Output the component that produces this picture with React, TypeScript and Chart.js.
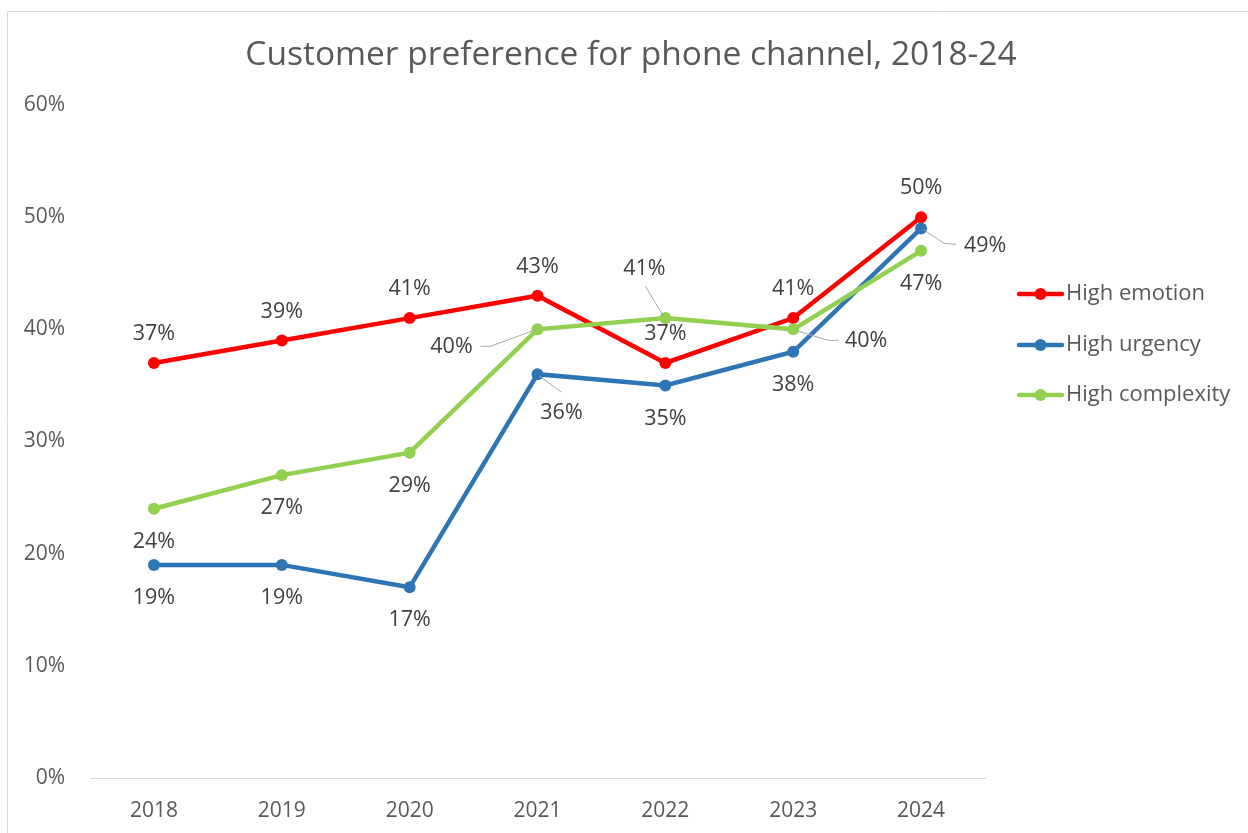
import React, { useEffect, useRef } from "react";
import { Chart, registerables } from "chart.js";

Chart.register(...registerables);

const years = ["2018", "2019", "2020", "2021", "2022", "2023", "2024"];
const highEmotion = [37, 39, 41, 43, 37, 41, 50];
const highUrgency = [19, 19, 17, 36, 35, 38, 49];
const highComplexity = [24, 27, 29, 40, 41, 40, 47];
const seriesNames = ["High emotion", "High urgency", "High complexity"];
const seriesColors = ["#ff0000", "#2e75b6", "#92d050"];
const chartTitle = "Customer preference for phone channel, 2018-24";

const FONT = "'Open Sans', 'Noto Sans', sans-serif";

type Place = { dx: number; dy: number; leader?: number[][] };
const ABOVE: Place = { dx: 0, dy: -29 };
const BELOW: Place = { dx: 0, dy: 33 };
const labelPlaces: Place[][] = [
  [ABOVE, ABOVE, ABOVE, ABOVE, ABOVE, ABOVE, ABOVE],
  [
    BELOW, BELOW, BELOW,
    { dx: 24, dy: 39, leader: [[2, 2], [24, 18]] },
    BELOW, BELOW,
    { dx: 64, dy: 17, leader: [[2, 1], [23, 15], [35, 16]] },
  ],
  [
    BELOW, BELOW, BELOW,
    { dx: -86, dy: 18, leader: [[-1, 0], [-47, 17], [-57, 17]] },
    { dx: -21, dy: -49, leader: [[-2, -2], [-20, -32]] },
    { dx: 73, dy: 12, leader: [[2, 1], [35, 11], [45, 11]] },
    BELOW,
  ],
];

const overlayPlugin = {
  id: "overlay",
  afterDatasetsDraw(chart: any) {
    const ctx = chart.ctx;
    ctx.save();
    // leader lines
    chart.data.datasets.forEach((ds: any, di: number) => {
      const meta = chart.getDatasetMeta(di);
      meta.data.forEach((pt: any, i: number) => {
        const pl = labelPlaces[di][i];
        if (!pl.leader) return;
        ctx.beginPath();
        ctx.strokeStyle = "#a6a6a6";
        ctx.lineWidth = 1;
        pl.leader.forEach((p, k) => {
          const x = pt.x + p[0];
          const y = pt.y + p[1];
          if (k === 0) ctx.moveTo(x, y);
          else ctx.lineTo(x, y);
        });
        ctx.stroke();
      });
    });
    // labels
    ctx.font = `21.5px ${FONT}`;
    ctx.fillStyle = "#404040";
    ctx.textAlign = "center";
    ctx.textBaseline = "middle";
    chart.data.datasets.forEach((ds: any, di: number) => {
      const meta = chart.getDatasetMeta(di);
      meta.data.forEach((pt: any, i: number) => {
        const pl = labelPlaces[di][i];
        ctx.fillText(ds.data[i] + "%", pt.x + pl.dx, pt.y + pl.dy);
      });
    });
    ctx.restore();
  },
  afterDraw(chart: any) {
    const ctx = chart.ctx;
    ctx.save();
    // outer border
    ctx.strokeStyle = "#d9d9d9";
    ctx.lineWidth = 1;
    ctx.beginPath();
    ctx.moveTo(7.5, chart.height + 5);
    ctx.lineTo(7.5, 11.5);
    ctx.lineTo(chart.width + 5, 11.5);
    ctx.stroke();
    // title
    ctx.font = `33.5px ${FONT}`;
    ctx.fillStyle = "#595959";
    ctx.textAlign = "center";
    ctx.textBaseline = "alphabetic";
    ctx.fillText(chartTitle, 631, 65);
    // legend
    const ys = [294, 345, 395];
    seriesNames.forEach((name, i) => {
      const y = ys[i];
      ctx.strokeStyle = seriesColors[i];
      ctx.lineWidth = 4.5;
      ctx.lineCap = "round";
      ctx.beginPath();
      ctx.moveTo(1019, y);
      ctx.lineTo(1062, y);
      ctx.stroke();
      ctx.fillStyle = seriesColors[i];
      ctx.beginPath();
      ctx.arc(1040.5, y, 6, 0, Math.PI * 2);
      ctx.fill();
      ctx.font = `22px ${FONT}`;
      ctx.fillStyle = "#595959";
      ctx.textAlign = "left";
      ctx.textBaseline = "middle";
      ctx.fillText(name, 1066, y);
    });
    ctx.restore();
  },
};

export default function App() {
  const canvasRef = useRef<HTMLCanvasElement | null>(null);

  useEffect(() => {
    if (!canvasRef.current) return;
    const seriesValues = [highEmotion, highUrgency, highComplexity];
    const chart = new Chart(canvasRef.current, {
      type: "line",
      data: {
        labels: years,
        datasets: seriesValues.map((vals, i) => ({
          label: seriesNames[i],
          data: vals,
          borderColor: seriesColors[i],
          backgroundColor: seriesColors[i],
          borderWidth: 4.5,
          pointRadius: 6,
          pointBorderWidth: 0,
          pointBackgroundColor: seriesColors[i],
          tension: 0,
          order: 3 - i,
        })),
      },
      options: {
        responsive: false,
        animation: false,
        devicePixelRatio: 1,
        layout: { padding: { top: 105, right: 263, left: 0, bottom: 0 } },
        plugins: {
          legend: { display: false },
          title: { display: false },
          tooltip: { enabled: false },
        },
        scales: {
          x: {
            offset: true,
            grid: { display: false, drawTicks: false },
            border: { display: true, color: "#d9d9d9", width: 1 },
            ticks: { padding: 20, color: "#595959", font: { family: FONT, size: 21 } },
            afterFit: (s: any) => {
              s.height = 55;
            },
          },
          y: {
            min: 0,
            max: 60,
            grid: { display: false, drawTicks: false },
            border: { display: false },
            ticks: {
              stepSize: 10,
              padding: 25,
              color: "#595959",
              font: { family: FONT, size: 21 },
              callback: (v: any) => v + "%",
            },
            afterFit: (s: any) => {
              s.width = 90;
            },
          },
        },
      },
      plugins: [overlayPlugin],
    } as any);
    return () => chart.destroy();
  }, []);

  return (
    <div style={{ position: "fixed", left: 0, top: 0, width: 1248, height: 833, background: "#fff" }}>
      <canvas ref={canvasRef} width={1248} height={833} style={{ width: 1248, height: 833, display: "block" }} />
    </div>
  );
}
